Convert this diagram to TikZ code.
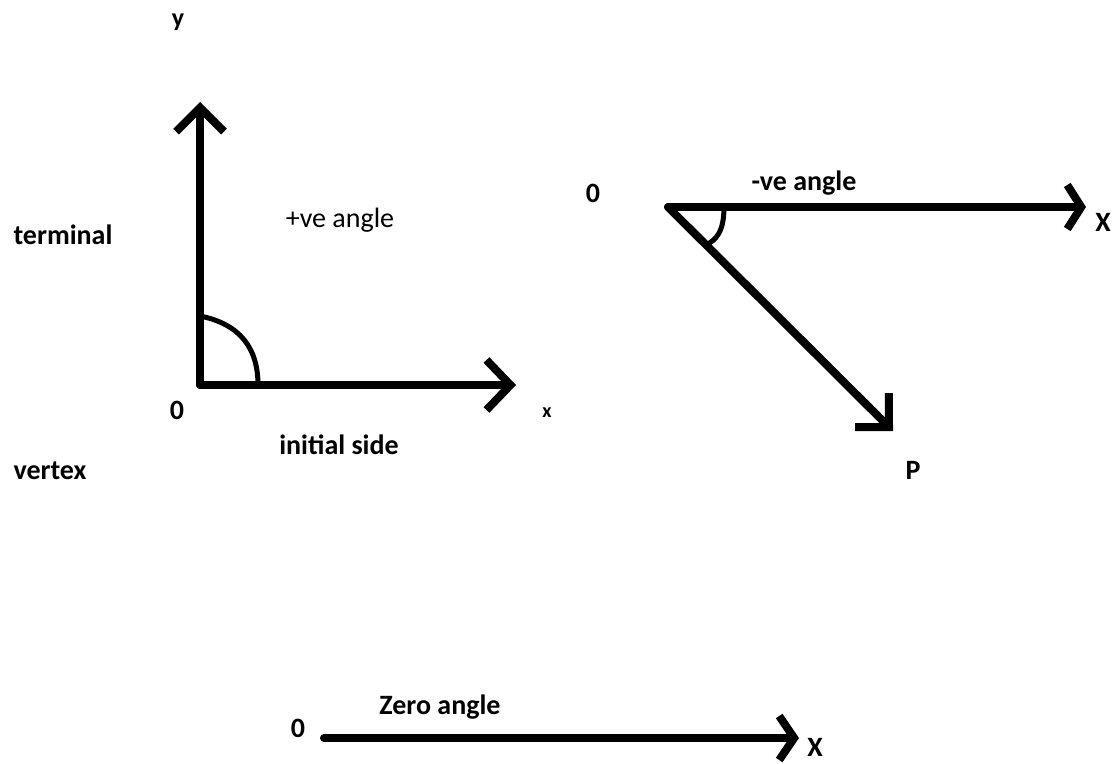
\documentclass[tikz,border=0pt]{standalone}
\usepackage{fontspec}
\setmainfont{Carlito}
\usetikzlibrary{arrows.meta}
\begin{document}
\begin{tikzpicture}[x=1pt,y=-1pt,
  ray/.style={line width=8pt,line cap=round,line join=round},
  anglearc/.style={line width=5pt,line cap=round},
  lbl/.style={font=\fontsize{28}{30}\selectfont\bfseries,inner sep=0pt},
  lblr/.style={font=\fontsize{28}{30}\selectfont,inner sep=0pt},
  small/.style={font=\fontsize{20}{22}\selectfont\bfseries,inner sep=0pt}]
\useasboundingbox (0,0) rectangle (1116,763);
% left figure
\coordinate (O1) at (200,385);
\coordinate (Y1) at (200,102);
\coordinate (X1) at (516,385);
\coordinate (A1s) at (200,316);
\coordinate (A1e) at (258,385);
\draw[ray,-{Straight Barb[length=24pt,width=48pt]}] (O1) -- (Y1);
\draw[ray,-{Straight Barb[length=24pt,width=50pt]}] (O1) -- (X1);
\draw[anglearc] (A1s) .. controls (240,324) and (258,348) .. (A1e);
\node[lbl,font=\fontsize{26}{28}\selectfont\bfseries] (ylab) at (178,22) {y};
\node[lbl] (term) at (63,235) {terminal};
\node[lblr] (pve) at (340,220) {+ve angle};
\node[lbl] (z1) at (177,410) {0};
\node[small] (xlab) at (547,413) {x};
\node[lbl] (init) at (339,445) {initial side};
\node[lbl] (vert) at (50,471) {vertex};
% right figure
\coordinate (O2) at (668,207);
\coordinate (X2) at (1086,207);
\coordinate (P2) at (893,431);
\coordinate (A2s) at (724,207);
\coordinate (A2e) at (706,245);
\draw[ray,-{Straight Barb[length=14pt,width=44pt]}] (O2) -- (X2);
\draw[ray,-{Straight Barb[length=24pt,width=48pt]}] (O2) -- (P2);
\draw[anglearc] (A2s) .. controls (724,232) and (716,240) .. (A2e);
\node[lbl] (z2) at (593,193) {0};
\node[lbl] (nve) at (804,183) {-ve angle};
\node[lbl] (xl2) at (1103,222) {X};
\node[lbl] (pl) at (913,470) {P};
% bottom
\coordinate (O3) at (324,738);
\coordinate (X3) at (799,738);
\draw[ray,-{Straight Barb[length=15pt,width=44pt]}] (O3) -- (X3);
\node[lbl] (z3) at (298,728) {0};
\node[lbl] (zero) at (440,707) {Zero angle};
\node[lbl] (xl3) at (815,747) {X};
\end{tikzpicture}
\end{document}
